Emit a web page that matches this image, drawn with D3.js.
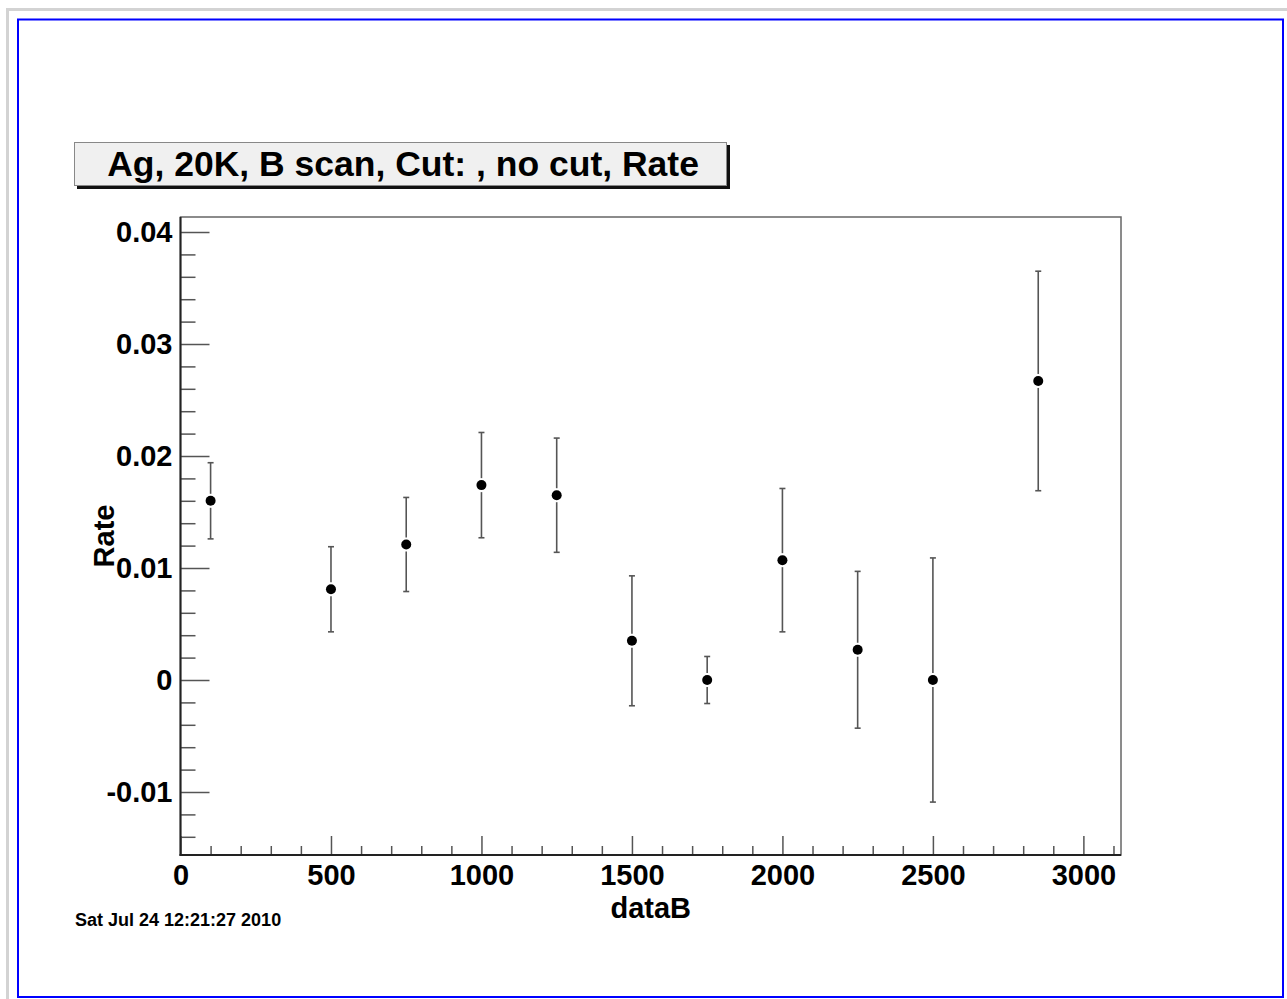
<!DOCTYPE html>
<html>
<head>
<meta charset="utf-8">
<script src="https://cdn.jsdelivr.net/npm/d3@7"></script>
<style>
  html, body { margin: 0; padding: 0; background: #ffffff; }
  svg { display: block; }
  text { font-family: "Liberation Sans", Arial, Helvetica, sans-serif; font-weight: bold; fill: #000; }
</style>
</head>
<body>
<svg id="chart" width="1287" height="999"></svg>
<script>
// ---- data ----
const xValues = [100, 500, 750, 1000, 1250, 1500, 1750, 2000, 2250, 2500, 2850];
const yValues = [0.0160, 0.0081, 0.0121, 0.0174, 0.0165, 0.0035, 0.0000, 0.0107, 0.0027, 0.0000, 0.0267];
const yErrors = [0.0034, 0.0038, 0.0042, 0.0047, 0.0051, 0.0058, 0.0021, 0.0064, 0.0070, 0.0109, 0.0098];
const xMajorTicks = [0, 500, 1000, 1500, 2000, 2500, 3000];
const yMajorTicks = [-0.01, 0, 0.01, 0.02, 0.03, 0.04];
const yTickLabels = ["-0.01", "0", "0.01", "0.02", "0.03", "0.04"];
const xDomain = [0, 3125];
const yDomain = [-0.015625, 0.04134];
const titleText = "Ag, 20K, B scan, Cut: , no cut, Rate";
const xTitle = "dataB";
const yTitle = "Rate";
const dateText = "Sat Jul 24 12:21:27 2010";

const xMinorTicks = d3.range(0, 3101, 100).filter(v => v % 500 !== 0);
const yMinorTicks = d3.range(-14, 41, 2).map(v => v / 1000).filter(v => Math.abs(Math.round(v * 1000)) % 10 !== 0);

const svg = d3.select("#chart");

// outer frames
svg.append("rect").attr("x", 7.5).attr("y", 9.5).attr("width", 2000).attr("height", 2000)
  .attr("fill", "none").attr("stroke", "#d3d3d3").attr("stroke-width", 3);
svg.append("rect").attr("x", 18).attr("y", 19.5).attr("width", 1265).attr("height", 977.5)
  .attr("fill", "#ffffff").attr("stroke", "#0000ff").attr("stroke-width", 2);

const L = 180.5, R = 1121, T = 217, B = 855;
const x = d3.scaleLinear().domain(xDomain).range([L, R]);
const y = d3.scaleLinear().domain(yDomain).range([B, T]);

// frame (top/right grey)
svg.append("rect").attr("x", L).attr("y", T).attr("width", R - L).attr("height", B - T)
  .attr("fill", "none").attr("stroke", "#666").attr("stroke-width", 1.5);

// y axis
const yAxisMinor = d3.axisLeft(y).tickValues(yMinorTicks).tickSize(-15).tickFormat("");
const yAxisMajor = d3.axisLeft(y).tickValues(yMajorTicks).tickSize(-29).tickPadding(8)
  .tickFormat((d, i) => yTickLabels[i]);
const gyMin = svg.append("g").attr("transform", `translate(${L},0)`).call(yAxisMinor);
const gy = svg.append("g").attr("transform", `translate(${L},0)`).call(yAxisMajor);
[gyMin, gy].forEach(g => {
  g.select(".domain").remove();
  g.selectAll(".tick line").attr("stroke", "#555").attr("stroke-width", 1.5);
});
gy.selectAll(".tick text").style("font-size", "29px").attr("fill", "#000");

// x axis
const xAxisMinor = d3.axisBottom(x).tickValues(xMinorTicks).tickSize(-9).tickFormat("");
const xAxisMajor = d3.axisBottom(x).tickValues(xMajorTicks).tickSize(-19).tickPadding(9)
  .tickFormat(d3.format("d"));
const gxMin = svg.append("g").attr("transform", `translate(0,${B})`).call(xAxisMinor);
const gx = svg.append("g").attr("transform", `translate(0,${B})`).call(xAxisMajor);
[gxMin, gx].forEach(g => {
  g.select(".domain").remove();
  g.selectAll(".tick line").attr("stroke", "#555").attr("stroke-width", 1.5);
});
gx.selectAll(".tick text").style("font-size", "29px").attr("fill", "#000");

// axis lines
svg.append("line").attr("x1", L).attr("x2", L).attr("y1", T).attr("y2", B + 0.75)
  .attr("stroke", "#222").attr("stroke-width", 2);
svg.append("line").attr("x1", L - 1).attr("x2", R).attr("y1", B).attr("y2", B)
  .attr("stroke", "#222").attr("stroke-width", 2);

// axis titles
svg.append("text").attr("x", (L + R) / 2).attr("y", 918).attr("text-anchor", "middle")
  .style("font-size", "29px").text(xTitle);
svg.append("text").attr("transform", `translate(114,${(T + B) / 2}) rotate(-90)`)
  .attr("text-anchor", "middle").style("font-size", "29px").text(yTitle);

// data: error bars + markers
const gap = 7, cap = 3;
const pts = xValues.map((v, i) => ({ x: v, y: yValues[i], e: yErrors[i] }));
const gp = svg.append("g");
pts.forEach(p => {
  const px = x(p.x), py = y(p.y), yt = y(p.y + p.e), yb = y(p.y - p.e);
  const stroke = { "stroke": "#555", "stroke-width": 1.6 };
  const seg = (x1, y1, x2, y2) => {
    const l = gp.append("line").attr("x1", x1).attr("y1", y1).attr("x2", x2).attr("y2", y2);
    Object.entries(stroke).forEach(([k, v]) => l.attr(k, v));
  };
  if (py - gap > yt) seg(px, yt, px, py - gap);
  if (py + gap < yb) seg(px, py + gap, px, yb);
  seg(px - cap, yt, px + cap, yt);
  seg(px - cap, yb, px + cap, yb);
  gp.append("circle").attr("cx", px).attr("cy", py).attr("r", 5).attr("fill", "#000");
});

// title box
svg.append("rect").attr("x", 77).attr("y", 145).attr("width", 653).attr("height", 44).attr("fill", "#111");
svg.append("rect").attr("x", 74.5).attr("y", 142.5).attr("width", 652).attr("height", 43)
  .attr("fill", "#f0f0f0").attr("stroke", "#888").attr("stroke-width", 1);
svg.append("text").attr("x", 403).attr("y", 175.5).attr("text-anchor", "middle")
  .style("font-size", "35.5px").text(titleText);

// date
svg.append("text").attr("x", 75).attr("y", 926).style("font-size", "18px").text(dateText);
</script>
</body>
</html>
